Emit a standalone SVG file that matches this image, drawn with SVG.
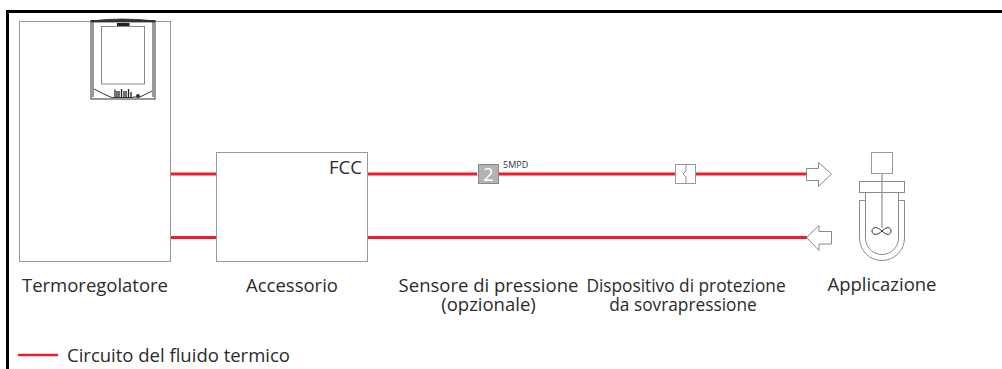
<svg xmlns="http://www.w3.org/2000/svg" width="1002" height="369" viewBox="0 0 1002 369">
<style>
.t{font-family:"Open Sans","Liberation Sans",sans-serif;font-size:18.500px;fill:#2b2b2b}
.m{text-anchor:middle}
.box{fill:#fff;stroke:#999;stroke-width:1}
.pipe{fill:none;stroke:#ed1c2e;stroke-width:3}
.ln{fill:none;stroke:#8a8a8a;stroke-width:1}
.dk{fill:none;stroke:#333;stroke-width:1}
</style>
<rect width="1002" height="369" fill="#fff"/>
<g id="frame"><path d="M7.500 369V11.500H1002" fill="none" stroke="#000" stroke-width="3"/></g>
<g id="connectors">
<path class="pipe" d="M171 174H216M171 237.500H216M367 174H477M499 174H675M696 174H806M367 237.500H807"/>
</g>
<g id="termoregolatore">
<rect class="box" x="19.500" y="21.500" width="151" height="240"/>
<rect x="91" y="20.500" width="64" height="78.500" fill="#fff" stroke="#333"/>
<path d="M91 21Q122 17 155 21V22H91Z" fill="#333" stroke="#333" stroke-width=".8"/>
<path class="dk" d="M93 22V97M153 22V97"/>
<rect class="ln" x="101.500" y="26.500" width="43" height="57.500"/>
<rect x="117" y="23" width="12.500" height="3" fill="#222"/>
<path class="dk" d="M94 89Q103 94 113 98M133 97H140L152 91" stroke-width=".8"/>
<path d="M115 89.500V97M117 91V97M119 91V97M121.500 89V97M124 91V97M126 91V97M128.500 89V97M131 92V97" stroke="#222" stroke-width="1.300" fill="none"/>
<path d="M113 97.500H133" stroke="#333" stroke-width="1"/>
<circle cx="138" cy="96" r="2" fill="#333"/>
<text class="t" x="22" y="292" textLength="146">Termoregolatore</text>
</g>
<g id="accessorio">
<rect class="box" x="216.500" y="152.500" width="151" height="109"/>
<text class="t" x="329" y="174">FCC</text>
<text class="t m" x="292" y="292">Accessorio</text>
</g>
<g id="sensore">
<rect x="478.500" y="164.500" width="20" height="19" fill="#b3b3b3" stroke="#888"/>
<text x="488.500" y="181" text-anchor="middle" style="font-family:'Open Sans',sans-serif;font-size:18px;fill:#fff">2</text>
<text x="503" y="168" style="font-family:'Open Sans',sans-serif;font-size:9px;fill:#333">5MPD</text>
<text class="t m" x="488.500" y="292">Sensore di pressione<tspan x="488.500" dy="19">(opzionale)</tspan></text>
</g>
<g id="dispositivo">
<rect class="box" x="675.500" y="164.500" width="20" height="19"/>
<path d="M686 165V171L683 174L686 177V183" class="ln"/>
<text class="t m" x="686" y="292" style="font-size:17.300px">Dispositivo di protezione<tspan x="683" dy="19">da sovrapressione</tspan></text>
</g>
<g id="applicazione">
<path class="ln" d="M806.500 168.500H818.500V162.500L831.500 174L818.500 186.500V180.500H806.500Z"/>
<path class="ln" d="M831.500 231.500H819V225.500L806.500 237.500L819 250.500V244H831.500Z"/>
<rect class="box" x="871.500" y="152.500" width="21" height="21"/>
<rect class="ln" x="859.500" y="181.500" width="45" height="11"/>
<path d="M882 173V228" stroke="#999" stroke-width="1.300" fill="none"/>
<path class="ln" d="M865.500 192.500V238A16.500 16.500 0 0 0 898.500 238V192.500"/>
<path class="ln" d="M865.500 200.500H859.500V238A22.500 22.500 0 0 0 904.500 238V200.500H898.500"/>
<path class="dk" d="M882 231C877 226 872 227 872 231S877 236 882 231S891 227 891 231S887 236 882 231Z" stroke-width=".8"/>
<text class="t m" x="882" y="291">Applicazione</text>
</g>
<g id="legenda">
<path class="pipe" d="M18 355H58" style="stroke-width:2.500"/>
<text class="t" x="67" y="362">Circuito del fluido termico</text>
</g>
</svg>
